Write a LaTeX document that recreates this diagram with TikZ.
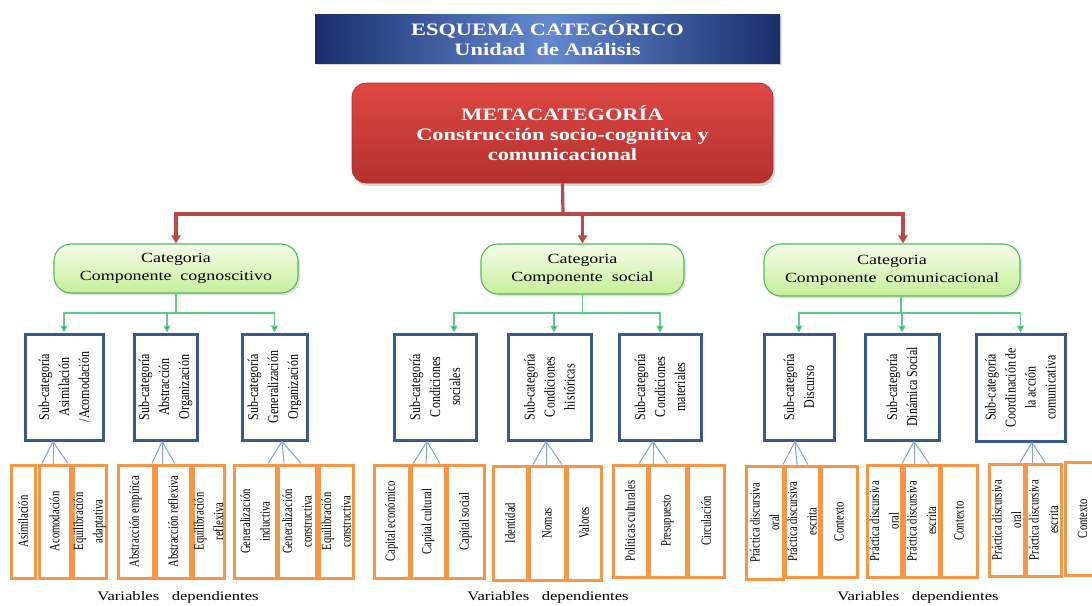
\documentclass[tikz,border=0pt]{standalone}
\usepackage{fontspec}
\setmainfont{Liberation Serif}
\newfontfamily\wideserif[FakeStretch=1.28]{Liberation Serif}
\newfontfamily\subserif[FakeStretch=0.8]{Liberation Serif}
\newfontfamily\varserif[FakeStretch=0.76]{Liberation Serif}
\usetikzlibrary{arrows.meta,shadows}
\definecolor{navyD}{HTML}{1B2D6C}
\definecolor{navyL}{HTML}{6289D0}
\definecolor{metaT}{HTML}{DE4844}
\definecolor{metaB}{HTML}{B3312F}
\definecolor{metaE}{HTML}{A83331}
\definecolor{redln}{HTML}{B84A48}
\definecolor{catT}{HTML}{F5FDE8}
\definecolor{catB}{HTML}{C6EF9C}
\definecolor{catE}{HTML}{55B95E}
\definecolor{grn}{HTML}{1DB155}
\definecolor{grnL}{HTML}{5FCB8A}
\definecolor{subE}{HTML}{3A5A8C}
\definecolor{orn}{HTML}{F79646}
\definecolor{fanc}{HTML}{7EA3D4}
\newcommand\subnode[6]{%
  \node[subbox, minimum width={#3-#2}, minimum height={#5-#4}] (#1) at ({(#2+#3)/2},{(#4+#5)/2}) {};
  \node[subtext] (#1t) at (#1.center) {#6};}
\newcommand\ornode[6]{%
  \node[varbox, minimum width={#3-#2}, minimum height={#5-#4}] (#1) at ({(#2+#3)/2},{(#4+#5)/2}) {};
  \node[vartext] (#1t) at (#1.center) {#6};}
\newcommand\fanlines[6]{%
  \draw[fanline] (#2,0 |- #1.south) -- (#4,0 |- #3.north);
  \draw[fanline] (#2,0 |- #1.south) -- (#5,0 |- #3.north);
  \draw[fanline] (#2,0 |- #1.south) -- (#6,0 |- #3.north);}
\begin{document}
\begin{tikzpicture}[x=1pt,y=-1pt,
  titlebox/.style={draw=none, left color=navyD, right color=navyD, middle color=navyL,
    inner sep=0, text=white, align=center,
    font=\wideserif\bfseries\fontsize{17.5}{20}\selectfont,
    drop shadow={opacity=0.3,shadow xshift=2pt,shadow yshift=-2pt}},
  metabox/.style={draw=metaE, line width=0.6, rounded corners=14, top color=metaT, bottom color=metaB,
    inner sep=0, text=white, align=center,
    font=\wideserif\bfseries\fontsize{17.5}{20}\selectfont,
    drop shadow={opacity=0.3,shadow xshift=2pt,shadow yshift=-3pt}},
  catbox/.style={draw=catE, line width=1.1, rounded corners=17, top color=catT, bottom color=catB,
    inner sep=0, align=center, font=\wideserif\fontsize{14}{18}\selectfont,
    drop shadow={opacity=0.25,shadow xshift=2pt,shadow yshift=-2pt}},
  subbox/.style={draw=subE, line width=3, fill=white, inner sep=0},
  subtext/.style={rotate=90, align=center, inner sep=0, font=\subserif\fontsize{15}{20}\selectfont},
  varbox/.style={draw=orn, line width=3, fill=white, inner sep=0},
  vartext/.style={rotate=90, align=center, inner sep=0, font=\varserif\fontsize{14}{19.5}\selectfont},
  varlabel/.style={anchor=base, inner sep=0, font=\wideserif\fontsize{13}{15}\selectfont},
  redline/.style={draw=redln, line width=3.2},
  redarrow/.style={redline, -{Triangle[width=9pt,length=8pt]}},
  greenline/.style={draw=grnL, line width=1.3},
  greenarrow/.style={greenline, -{Triangle[width=7pt,length=7pt,fill=grn]}},
  fanline/.style={draw=fanc, line width=1}
]
\useasboundingbox (0,0) rectangle (1092,605);
\clip (0,0) rectangle (1092,605);

% title and metacategory
\node[titlebox, minimum width=465, minimum height=49] (T) at (547.5,38.5)
  {ESQUEMA CATEGÓRICO\\Unidad~ de Análisis};
\node[metabox, minimum width=421, minimum height=100] (M) at (562.5,133)
  {METACATEGORÍA\\Construcción socio-cognitiva y\\comunicacional};

% categories
\node[catbox, minimum width=244, minimum height=49] (C1) at (176,268.5)
  {Categoria\\Componente~ cognoscitivo};
\node[catbox, minimum width=203, minimum height=50] (C2) at (582.5,269)
  {Categoria\\Componente~ social};
\node[catbox, minimum width=256, minimum height=52] (C3) at (892,270)
  {Categoria\\Componente~ comunicacional};

% red connectors
\coordinate (R) at (563,214);
\draw[redline] (M.south) -- (R);
\draw[redarrow] (R) -| (C1.north);
\draw[redarrow] (R) -| (C2.north);
\draw[redarrow] (R) -| ([xshift=11]C3.north);

% sub-categories
\subnode{S1}{25}{103}{334}{440}{Sub-categoría\\Asimilación\\/Acomodación}
\subnode{S2}{134}{197}{334}{440}{Sub-categoría\\Abstracción\\Organización}
\subnode{S3}{242}{307}{334}{440}{Sub-categoría\\Generalización\\Organización}
\subnode{S4}{394}{476}{334}{440}{Sub-categoría\\Condiciones\\sociales}
\subnode{S5}{508}{591}{334}{440}{Sub-categoría\\Condiciones\\históricas}
\subnode{S6}{619}{701}{334}{440}{Sub-categoría\\Condiciones\\materiales}
\subnode{S7}{764}{834}{334}{440}{Sub-categoría\\Discurso}
\subnode{S8}{865}{939}{334}{440}{Sub-categoría\\Dinámica Social}
\subnode{S9}{976}{1065}{334}{441}{Sub-categoría\\Coordinación de\\la acción\\comunicativa}

% green connectors
\coordinate (J1) at (176,313);
\coordinate (J2) at (582.5,313);
\coordinate (J3) at (901,313);
\draw[greenline] (C1.south) -- (J1);
\draw[greenline] (C2.south) -- (J2);
\draw[greenline] ([xshift=9]C3.south) -- (J3);
\draw[greenarrow] (J1) -| (S1.north);
\draw[greenarrow] (J1) -| ([xshift=1.5]S2.north);
\draw[greenarrow] (J1) -| (S3.north);
\draw[greenarrow] (J2) -| ([xshift=19]S4.north);
\draw[greenarrow] (J2) -| ([xshift=4.5]S5.north);
\draw[greenarrow] (J2) -| (S6.north);
\draw[greenarrow] (J3) -| (S7.north);
\draw[greenarrow] (J3) -| (S8.north);
\draw[greenarrow] (J3) -| (S9.north);

% variables
\ornode{O1a}{11}{35}{465}{578}{Asimilación}
\ornode{O1b}{39}{70}{465}{578}{Acomodación}
\ornode{O1c}{73}{106}{465}{578}{Equilibración\\adaptativa}
\ornode{O2a}{118}{153}{465}{578}{Abstracción empírica}
\ornode{O2b}{156}{190}{465}{578}{Abstracción reflexiva}
\ornode{O2c}{193}{224}{465}{578}{Equilibración\\reflexiva}
\ornode{O3a}{234}{276}{465}{578}{Generalización\\inductiva}
\ornode{O3b}{278}{316}{465}{578}{Generalización\\constructiva}
\ornode{O3c}{319}{353}{465}{578}{Equilibración\\constructiva}
\ornode{O4a}{374}{409}{465}{578}{Capital económico}
\ornode{O4b}{411}{445}{465}{578}{Capital cultural}
\ornode{O4c}{447}{484}{465}{578}{Capital social}
\ornode{O5a}{493}{527}{466}{580}{Identidad}
\ornode{O5b}{529}{565}{466}{580}{Nomas}
\ornode{O5c}{567}{601}{466}{580}{Valores}
\ornode{O6a}{613}{647}{465}{577}{Políticas culturales}
\ornode{O6b}{649}{686}{465}{577}{Presupuesto}
\ornode{O6c}{688}{724}{465}{577}{Circulación}
\ornode{O7a}{746}{783}{466}{579}{Práctica discursiva\\oral}
\ornode{O7b}{785}{819}{466}{577}{Práctica discursiva\\escrita}
\ornode{O7c}{821}{857}{466}{577}{Contexto}
\ornode{O8a}{867}{901}{465}{577}{Práctica discursiva\\oral}
\ornode{O8b}{904}{939}{465}{577}{Práctica discursiva\\escrita}
\ornode{O8c}{941}{977}{465}{577}{Contexto}
\ornode{O9a}{989}{1024}{464}{576}{Práctica discursiva\\oral}
\ornode{O9b}{1026}{1061}{464}{576}{Práctica discursiva\\escrita}
\ornode{O9c}{1065}{1100}{462}{575}{Contexto}

% fans
\fanlines{S1}{53}{O1b}{42}{53}{68}
\fanlines{S2}{162}{O2b}{152}{162}{175}
\fanlines{S3}{282}{O3b}{268}{284}{301}
\fanlines{S4}{427}{O4b}{413}{426}{440}
\fanlines{S5}{546}{O5b}{533}{546}{562}
\fanlines{S6}{653}{O6b}{639}{653}{668}
\fanlines{S7}{795}{O7b}{783}{797}{808}
\fanlines{S8}{914}{O8b}{902}{914}{929}
\fanlines{S9}{1032}{O9b}{1020}{1032}{1045}

% labels
\node[varlabel] (V1) at (178,600) {Variables~~ dependientes};
\node[varlabel] (V2) at (548,600) {Variables~~ dependientes};
\node[varlabel] (V3) at (918,600) {Variables~~ dependientes};
\end{tikzpicture}
\end{document}
